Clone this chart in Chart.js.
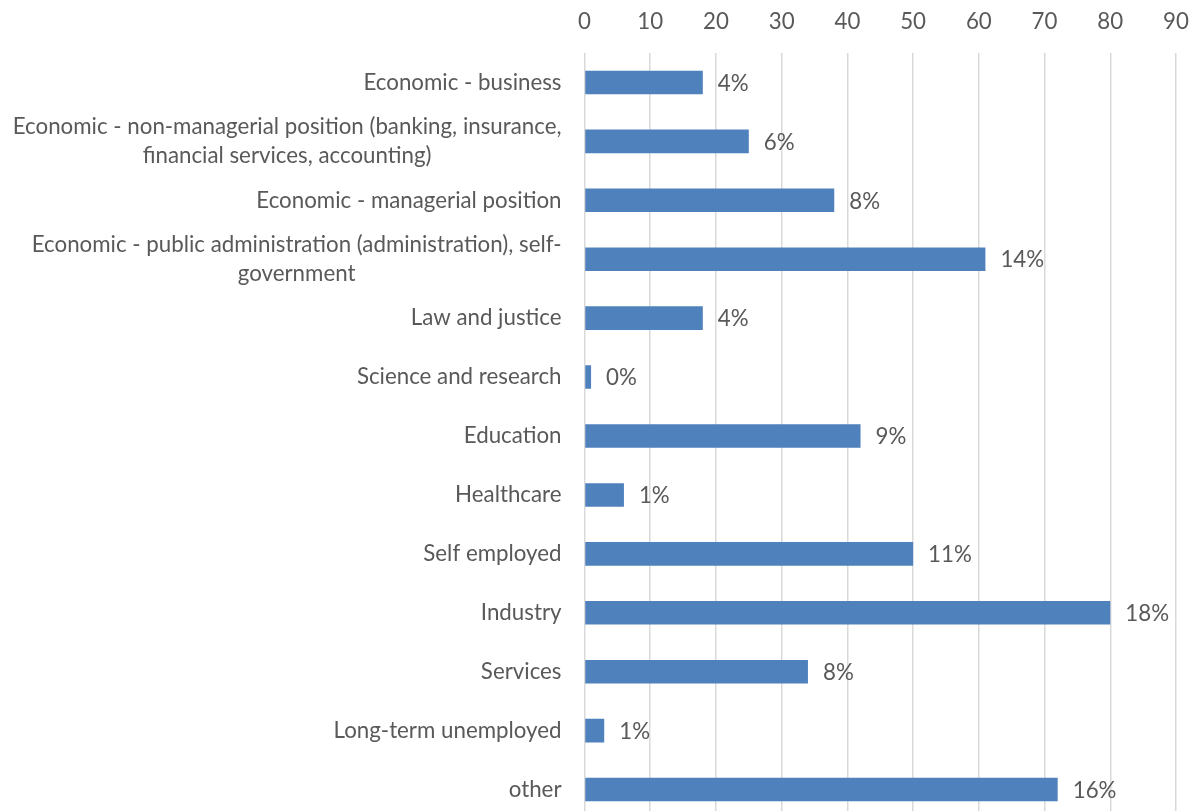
<!DOCTYPE html>
<html>
<head>
<meta charset="utf-8">
<title>Occupation of respondents</title>
<script src="https://cdn.jsdelivr.net/npm/chart.js@4.4.1/dist/chart.umd.min.js"></script>
<style>
  html, body { margin: 0; padding: 0; background: #ffffff; overflow: hidden; }
  #wrap { position: relative; width: 1196px; height: 820px; }
</style>
</head>
<body>
<div id="wrap"><canvas id="chart" width="1196" height="820"></canvas></div>
<script>
// Occupation groups (wrapped labels are given as arrays of lines)
const categories = [
  'Economic - business',
  ['Economic - non-managerial position (banking, insurance,', 'financial services, accounting)'],
  'Economic - managerial position',
  ['Economic - public administration (administration), self-', 'government'],
  'Law and justice',
  'Science and research',
  'Education',
  'Healthcare',
  'Self employed',
  'Industry',
  'Services',
  'Long-term unemployed',
  'other'
];

// Number of respondents in each group
const respondents = [18, 25, 38, 61, 18, 1, 42, 6, 50, 80, 34, 3, 72];

// Value axis
const axisMin = 0;
const axisMax = 90;
const axisStep = 10;

const FONT_FAMILY = 'Lato, "Open Sans", sans-serif';
const FONT_SIZE = 22.3;
const TEXT_COLOR = '#595959';
const LINE_HEIGHT = 29;

const total = respondents.reduce((a, b) => a + b, 0);

// Category names: right-aligned block, wrapped lines centred within it
const categoryLabels = {
  id: 'categoryLabels',
  afterDraw(chart) {
    const { ctx, chartArea, scales } = chart;
    const y = scales.y;
    ctx.save();
    ctx.font = FONT_SIZE + 'px ' + FONT_FAMILY;
    ctx.fillStyle = TEXT_COLOR;
    ctx.textBaseline = 'middle';
    ctx.textAlign = 'center';
    const right = chartArea.left - 23;
    categories.forEach((lab, i) => {
      const lines = Array.isArray(lab) ? lab : [lab];
      const w = Math.max(...lines.map(l => ctx.measureText(l).width));
      const cx = right - w / 2;
      const yc = y.getPixelForValue(i);
      lines.forEach((l, j) => {
        ctx.fillText(l, cx, yc + (j - (lines.length - 1) / 2) * LINE_HEIGHT);
      });
    });
    ctx.restore();
  }
};

// Share of all respondents, written just past the end of each bar
const shareLabels = {
  id: 'shareLabels',
  afterDatasetsDraw(chart) {
    const { ctx } = chart;
    const meta = chart.getDatasetMeta(0);
    ctx.save();
    ctx.font = FONT_SIZE + 'px ' + FONT_FAMILY;
    ctx.fillStyle = TEXT_COLOR;
    ctx.textBaseline = 'middle';
    ctx.textAlign = 'left';
    meta.data.forEach((bar, i) => {
      const pct = Math.round(respondents[i] / total * 100) + '%';
      ctx.fillText(pct, bar.x + 15, bar.y + 1);
    });
    ctx.restore();
  }
};

new Chart(document.getElementById('chart'), {
  type: 'bar',
  data: {
    labels: categories,
    datasets: [{
      data: respondents,
      backgroundColor: '#4f81bd',
      borderWidth: 0,
      categoryPercentage: 1,
      barPercentage: 0.4
    }]
  },
  options: {
    indexAxis: 'y',
    responsive: false,
    animation: false,
    devicePixelRatio: 1,
    layout: { padding: { left: 0, right: 20, top: 0, bottom: 1 } },
    plugins: {
      legend: { display: false },
      tooltip: { enabled: false },
      title: { display: false }
    },
    scales: {
      x: {
        position: 'top',
        min: axisMin,
        max: axisMax,
        ticks: {
          stepSize: axisStep,
          color: TEXT_COLOR,
          font: { family: FONT_FAMILY, size: FONT_SIZE },
          padding: 18
        },
        grid: { color: '#d9d9d9', lineWidth: 1.5, drawTicks: false },
        border: { display: false },
        afterFit(scale) {
          scale.height = 53;
          scale.paddingLeft = 0;
          scale.paddingRight = 0;
        }
      },
      y: {
        ticks: { display: false },
        grid: { display: false },
        border: { display: false },
        afterFit(scale) { scale.width = 584.5; }
      }
    }
  },
  plugins: [categoryLabels, shareLabels]
});
</script>
</body>
</html>
